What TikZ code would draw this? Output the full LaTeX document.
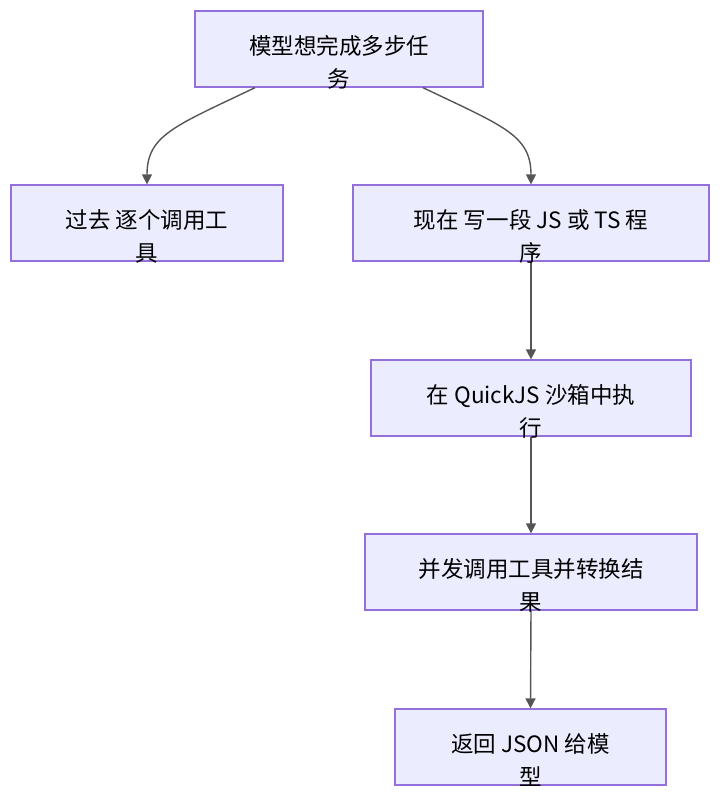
\documentclass[tikz,border=0pt]{standalone}
\usepackage{fontspec}
\setmainfont{Noto Sans CJK SC}
\usetikzlibrary{arrows.meta}
\definecolor{boxfill}{HTML}{ECECFF}
\definecolor{boxline}{HTML}{9370DB}
\definecolor{edge}{HTML}{555555}
\begin{document}
\begin{tikzpicture}[x=1pt,y=-1pt,>={Triangle[length=10pt,width=10pt]}]
\tikzstyle{step box}=[draw=boxline, fill=boxfill, line width=1.3pt, inner sep=0pt, minimum height=76pt]
\tikzstyle{label txt}=[align=center, inner sep=0pt, font=\fontsize{22.5}{33}\selectfont]
\tikzstyle{edge line}=[draw=edge, line width=1.4pt, ->]

\useasboundingbox (0,0) rectangle (720,796);

\node[step box, minimum width=288pt] (goal) at (339,49) {};
\node[step box, minimum width=272pt] (past) at (147,223) {};
\node[step box, minimum width=356pt] (now) at (531,223) {};
\node[step box, minimum width=320pt] (sandbox) at (531,398) {};
\node[step box, minimum width=332pt] (concur) at (531,572) {};
\node[step box, minimum width=271pt] (result) at (530.5,747) {};

\draw[edge line] ([xshift=-84pt]goal.south) .. controls (175,126) and (147,135) .. (past.north);
\draw[edge line] ([xshift=84pt]goal.south) .. controls (503,126) and (531,135) .. (now.north);
\draw[edge line] (now.south) -- (sandbox.north);
\draw[edge line] (sandbox.south) -- (concur.north);
\draw[edge line] (concur.south) -- (result.north);

\node[label txt] (goal-t) at ([yshift=-13.5pt]goal.center) {模型想完成多步任\\务};
\node[label txt] (past-t) at ([yshift=-13.5pt]past.center) {过去 逐个调用工\\具};
\node[label txt] (now-t) at ([yshift=-13.5pt]now.center) {现在 写一段 JS 或 TS 程\\序};
\node[label txt] (sandbox-t) at ([yshift=-13.5pt]sandbox.center) {在 QuickJS 沙箱中执\\行};
\node[label txt] (concur-t) at ([yshift=-13.5pt]concur.center) {并发调用工具并转换结\\果};
\node[label txt] (result-t) at ([yshift=-13.5pt]result.center) {返回 JSON 给模\\型};
\end{tikzpicture}
\end{document}
